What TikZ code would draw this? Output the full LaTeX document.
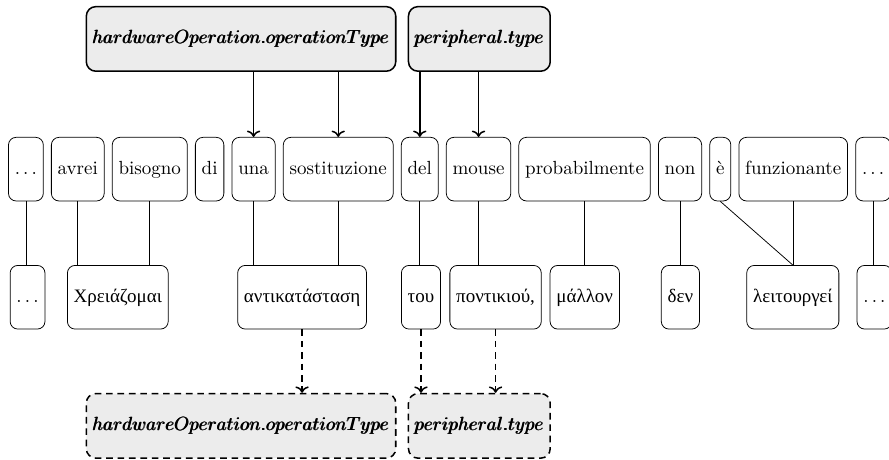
\documentclass[tikz,border=0pt]{standalone}
\usepackage{fontspec}
\usepackage{amsmath,amssymb}
\usepackage{xcolor}
\usetikzlibrary{positioning,arrows.meta}
\newfontfamily\greekfont{Liberation Serif}

\tikzset{
  word/.style={draw,rounded corners=4pt,minimum height=33.5pt,
    text height=1.5ex,text depth=.25ex},
  gword/.style={word,font=\greekfont},
  tag/.style={draw,thick,rounded corners=5pt,fill=gray!15,
    minimum height=34pt},
  guess/.style={tag,dash pattern=on 3.5pt off 2.5pt},
  map/.style={thick,->},
  guessmap/.style={thick,dash pattern=on 3.5pt off 2.5pt,->}
}

\begin{document}
\begin{tikzpicture}[node distance=3.85pt]
    \useasboundingbox (0,0) rectangle (16.45,-8.51);

    % Italian sentence
    \node[word,anchor=west] (dotsA) at (0.15,-3.13) {$\ldots$};
    \node[word,right=of dotsA] (avrei) {avrei};
    \node[word,right=of avrei] (bisogno) {bisogno};
    \node[word,right=of bisogno] (di) {di};
    \node[word,right=of di] (una) {una};
    \node[word,right=of una] (sost) {sostituzione};
    \node[word,right=of sost] (del) {del};
    \node[word,right=of del] (mouse) {mouse};
    \node[word,right=of mouse] (prob) {probabilmente};
    \node[word,right=of prob] (non) {non};
    \node[word,right=of non] (e) {è};
    \node[word,right=of e] (funz) {funzionante};
    \node[word,right=of funz] (dotsB) {$\ldots$};

    % Greek sentence
    \node[word] (gdotsA) at (0.51,-5.50) {$\ldots$};
    \node[gword] (xreiaz) at (2.18,-5.50) {Χρειάζομαι};
    \node[gword] (antik) at (5.59,-5.50) {αντικατάσταση};
    \node[gword] (tou) at (7.79,-5.50) {του};
    \node[gword] (pont) at (9.17,-5.50) {ποντικιού,};
    \node[gword] (mallon) at (10.82,-5.50) {μάλλον};
    \node[gword] (den) at (12.59,-5.50) {δεν};
    \node[gword] (leit) at (14.67,-5.50) {λειτουργεί};
    \node[word] (gdotsB) at (16.18,-5.50) {$\ldots$};

    % Word alignment
    \draw (dotsA.south) -- (dotsA.south |- gdotsA.north);
    \draw (avrei.south) -- (avrei.south |- xreiaz.north);
    \draw (bisogno.south) -- (bisogno.south |- xreiaz.north);
    \draw (una.south) -- (una.south |- antik.north);
    \draw (sost.south) -- (sost.south |- antik.north);
    \draw (del.south) -- (del.south |- tou.north);
    \draw (mouse.south) -- (mouse.south |- pont.north);
    \draw (prob.south) -- (prob.south |- mallon.north);
    \draw (non.south) -- (non.south |- den.north);
    \draw (e.south) -- (leit.north);
    \draw (funz.south) -- (funz.south |- leit.north);
    \draw (dotsB.south) -- (dotsB.south |- gdotsB.north);

    % Annotations on the source side
    \node[tag] (opType) at (4.46,-0.72) {$\pmb{hardwareOperation.operationType}$};
    \node[tag] (perType) at (8.87,-0.72) {$\pmb{peripheral.type}$};
    \draw[map] (una.north |- opType.south) -- (una.north);
    \draw[map] (sost.north |- opType.south) -- (sost.north);
    \draw[map] (del.north |- perType.south) -- (del.north);
    \draw[map] (mouse.north |- perType.south) -- (mouse.north);

    % Projected annotations
    \node[guess] (opTypeOut) at (4.46,-7.88) {$\pmb{hardwareOperation.operationType}$};
    \node[guess] (perTypeOut) at (8.87,-7.88) {$\pmb{peripheral.type}$};
    \draw[guessmap] (antik.south) -- (antik.south |- opTypeOut.north);
    \draw[guessmap] (tou.south) -- (tou.south |- perTypeOut.north);
    \draw[guessmap] (pont.south) -- (pont.south |- perTypeOut.north);
\end{tikzpicture}
\end{document}
